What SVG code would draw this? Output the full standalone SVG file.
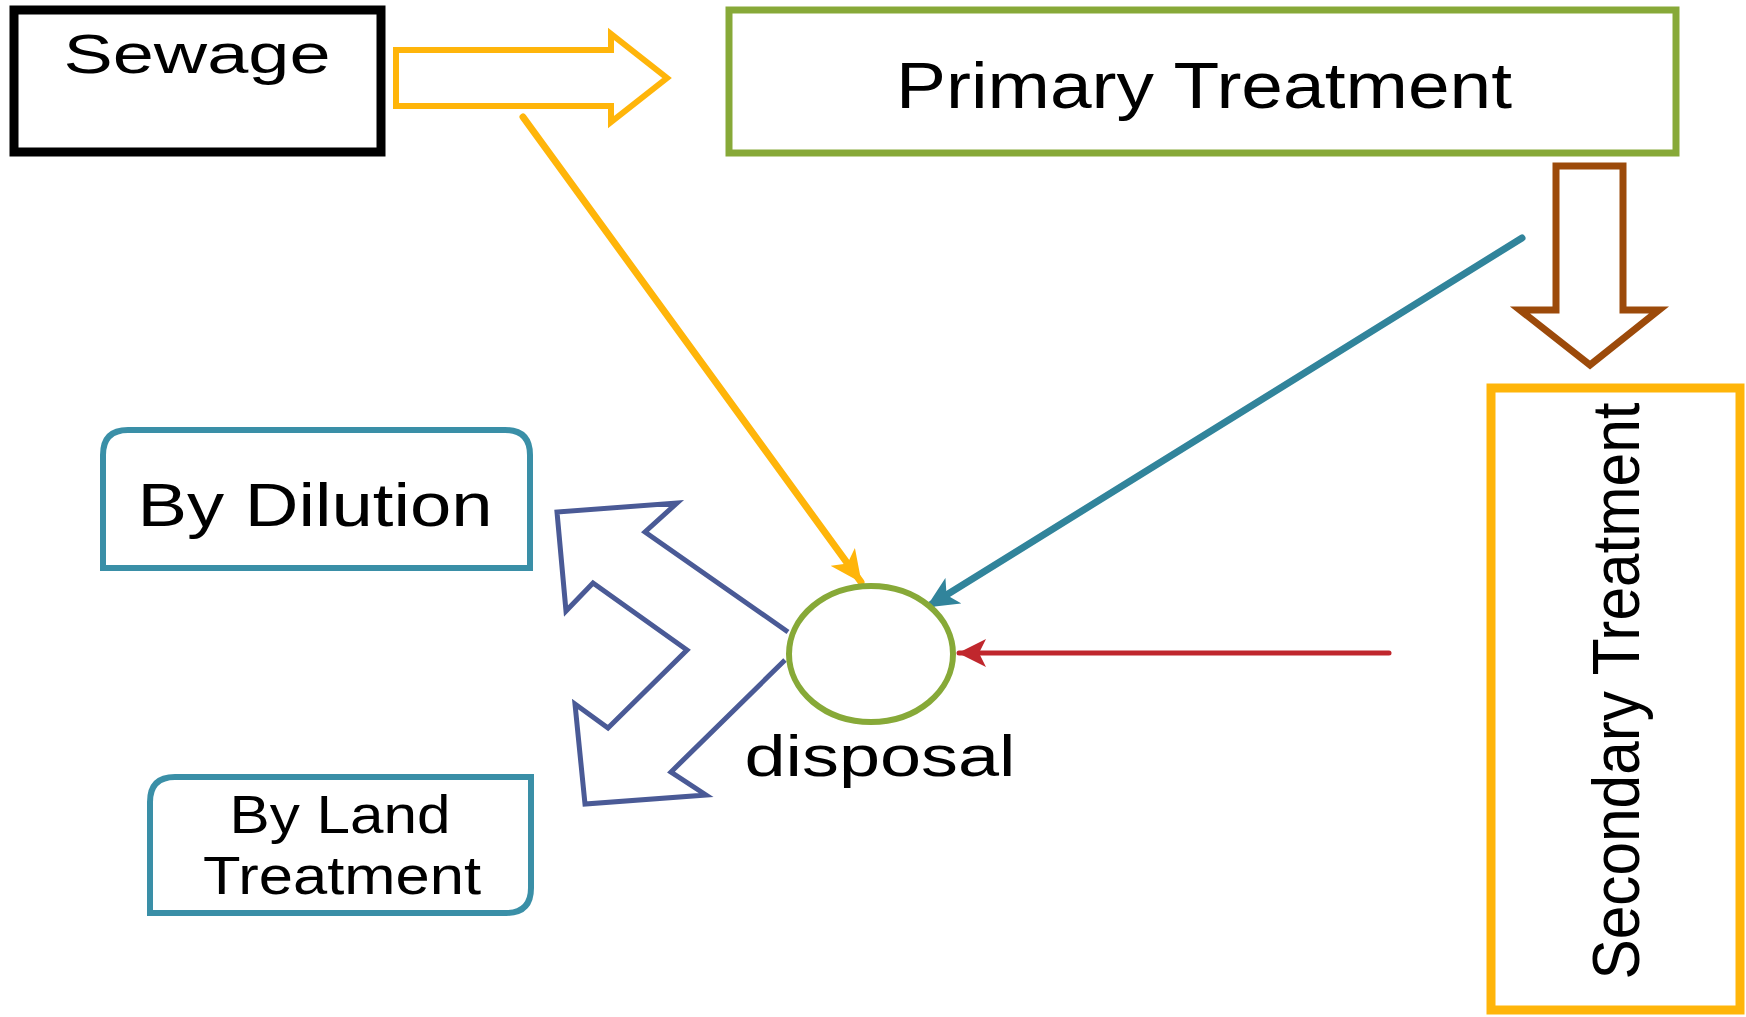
<svg xmlns="http://www.w3.org/2000/svg" width="1746" height="1017" viewBox="0 0 1746 1017">
<style>
  .t { font-family: "Liberation Sans", Arial, sans-serif; fill: #000; text-anchor: middle; }
  .box { fill: #fff; }
  .line { fill: none; stroke-linecap: round; }
</style>
<defs>
  <marker id="ah-y" markerUnits="userSpaceOnUse" viewBox="0 0 32 30" markerWidth="32" markerHeight="30" refX="31" refY="15" orient="auto">
    <path d="M0,0 L32,15 L0,30 L8,15 z" fill="#FFB50A"/>
  </marker>
  <marker id="ah-t" markerUnits="userSpaceOnUse" viewBox="0 0 32 30" markerWidth="32" markerHeight="30" refX="31" refY="15" orient="auto">
    <path d="M0,0 L32,15 L0,30 L8,15 z" fill="#31849B"/>
  </marker>
  <marker id="ah-r" markerUnits="userSpaceOnUse" viewBox="0 0 28 28" markerWidth="28" markerHeight="28" refX="27" refY="14" orient="auto">
    <path d="M0,0 L28,14 L0,28 L7,14 z" fill="#C0272D"/>
  </marker>
</defs>
<rect width="1746" height="1017" fill="#fff"/>

<g id="connectors">
  <polygon id="arrow-sewage-primary" points="396,50 611,50 611,34 667,78 611,122 611,106 396,106" fill="#fff" stroke="#FFB50A" stroke-width="6"/>
  <polygon id="arrow-primary-secondary" points="1556,166 1623,166 1623,310 1659,310 1590,365 1520,310 1556,310" fill="#fff" stroke="#9C4A0A" stroke-width="7"/>
  <line id="sewage-disposal" class="line" x1="523" y1="117" x2="861" y2="582" stroke="#FFB50A" stroke-width="7" marker-end="url(#ah-y)"/>
  <line id="primary-disposal" class="line" x1="1522" y1="238" x2="927" y2="607" stroke="#31849B" stroke-width="7" marker-end="url(#ah-t)"/>
  <line id="secondary-disposal" class="line" x1="1389" y1="653" x2="959" y2="653" stroke="#C0272D" stroke-width="5" marker-end="url(#ah-r)"/>
  <polyline id="disposal-split" points="788,632 645,532 677,503 557,512 566,611 593,583 687,650 608,728 575,704 585,804 706,795 671,772 785,660" fill="#fff" stroke="#4A5A96" stroke-width="5" stroke-linejoin="miter"/>
</g>

<g id="sewage">
  <rect class="box" x="14" y="10" width="367" height="142" stroke="#000" stroke-width="9"/>
  <text class="t" x="197" y="73" font-size="56" textLength="267" lengthAdjust="spacingAndGlyphs">Sewage</text>
</g>

<g id="primary">
  <rect class="box" x="729" y="10" width="947" height="143" stroke="#87A938" stroke-width="7"/>
  <text class="t" x="1204" y="108" font-size="64" textLength="616" lengthAdjust="spacingAndGlyphs">Primary Treatment</text>
</g>

<g id="secondary">
  <rect class="box" x="1491" y="388" width="249" height="622" stroke="#FFB50A" stroke-width="9"/>
  <text class="t" transform="translate(1639,691) rotate(-90)" x="0" y="0" font-size="66" textLength="577" lengthAdjust="spacingAndGlyphs">Secondary Treatment</text>
</g>

<g id="disposal">
  <ellipse cx="871" cy="654" rx="82" ry="68" fill="#fff" stroke="#87A938" stroke-width="6"/>
  <text class="t" x="880" y="776" font-size="58" textLength="271" lengthAdjust="spacingAndGlyphs">disposal</text>
</g>

<g id="dilution">
  <path class="box" d="M103,568 L103,455 Q103,430 128,430 L505,430 Q530,430 530,455 L530,568 Z" stroke="#3A8FA7" stroke-width="6"/>
  <text class="t" x="315" y="526" font-size="61" textLength="355" lengthAdjust="spacingAndGlyphs">By Dilution</text>
</g>

<g id="land">
  <path class="box" d="M150,913 L150,802 Q150,777 175,777 L531,777 L531,888 Q531,913 506,913 Z" stroke="#3A8FA7" stroke-width="6"/>
  <text class="t" x="340" y="833" font-size="53" textLength="221" lengthAdjust="spacingAndGlyphs">By Land</text>
  <text class="t" x="342" y="894" font-size="53" textLength="278" lengthAdjust="spacingAndGlyphs">Treatment</text>
</g>
</svg>
